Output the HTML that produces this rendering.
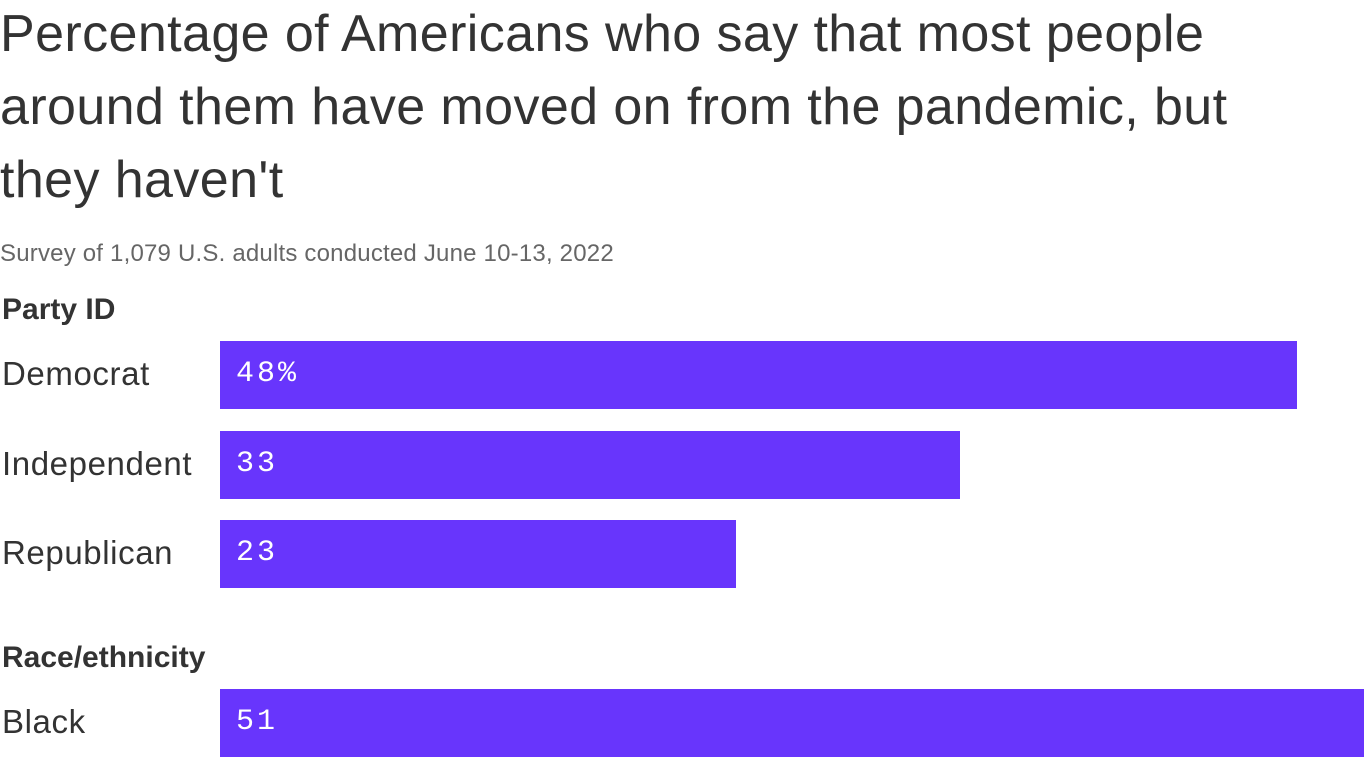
<!DOCTYPE html>
<html><head><meta charset="utf-8"><style>
body{margin:0;width:1366px;height:768px;overflow:hidden;background:#fff;font-family:"Liberation Sans",sans-serif;color:#333;position:relative}
.t{position:absolute;left:0;top:-2px;font-size:52px;line-height:73px;color:#333;letter-spacing:0.4px;width:1366px;white-space:nowrap}
.s{position:absolute;left:0;top:240px;font-size:24px;color:#666;letter-spacing:0.2px}
.g{position:absolute;left:2px;font-size:30px;font-weight:bold;color:#333}
.l{position:absolute;left:2px;font-size:33px;color:#333;letter-spacing:0.6px}
.b{position:absolute;left:220px;height:68px;background:#6835fc}
.v{position:absolute;left:236px;font-family:"Liberation Mono",monospace;font-size:30px;color:#fff;letter-spacing:3px}
</style></head><body>
<div class="t">Percentage of Americans who say that most people<br>around them have moved on from the pandemic, but<br>they haven't</div>
<div class="s">Survey of 1,079 U.S. adults conducted June 10-13, 2022</div>
<div id="c"></div>
<script>
const groups=["Party ID","Party ID","Party ID","Race/ethnicity"];
const categories=["Democrat","Independent","Republican","Black"];
const values=[48,33,23,51];
const valueLabels=["48%","33","23","51"];
const headers=[{name:"Party ID",top:293},{name:"Race/ethnicity",top:641}];
const barTops=[341,431,520,689];
const scale=v=>v*1144/51;
const c=document.getElementById('c');
headers.forEach(h=>{const d=document.createElement('div');d.className='g';d.style.top=h.top+'px';d.textContent=h.name;


c.appendChild(d);});
categories.forEach((cat,i)=>{
const t=barTops[i];
const l=document.createElement('div');l.className='l';l.style.top=(t+14)+'px';l.textContent=cat;


c.appendChild(l);
const b=document.createElement('div');b.className='b';b.style.top=t+'px';b.style.width=scale(values[i])+'px';


c.appendChild(b);
const v=document.createElement('div');v.className='v';v.style.top=(t+16)+'px';v.textContent=valueLabels[i];


c.appendChild(v);
});
</script>
</body></html>
